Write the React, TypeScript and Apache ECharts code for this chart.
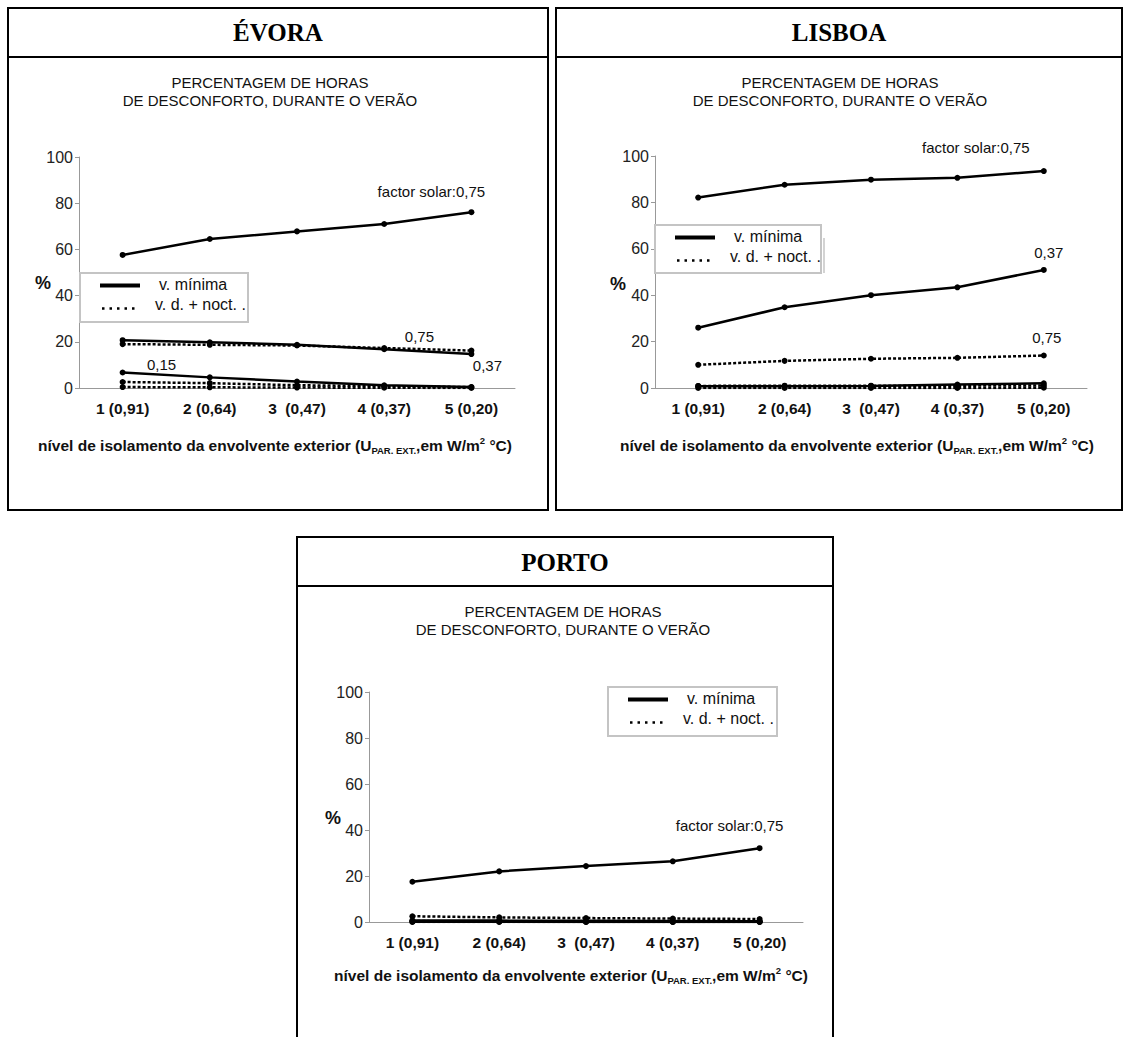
import React, { useEffect, useRef } from 'react';
import * as echarts from 'echarts';

// ---------- data ----------
const categories = ['1 (0,91)', '2 (0,64)', '3  (0,47)', '4 (0,37)', '5 (0,20)'];
const yMin = 0;
const yMax = 100;
const yStep = 20;

// Évora — v. mínima (solid) and v. d. + noct. (dashed), factor solar 0,75 / 0,37 / 0,15
const evoraMin075 = [57.6, 64.5, 67.8, 71.0, 76.1];
const evoraMin037 = [20.7, 19.8, 18.7, 16.8, 14.7];
const evoraMin015 = [6.7, 4.6, 2.8, 1.2, 0.4];
const evoraVdn075 = [19.0, 18.7, 18.4, 17.3, 16.2];
const evoraVdn037 = [2.6, 2.1, 1.2, 0.8, 0.4];
const evoraVdn015 = [0.4, 0.3, 0.2, 0.1, 0.0];

// Lisboa
const lisboaMin075 = [82.1, 87.6, 89.8, 90.6, 93.5];
const lisboaMin037 = [26.0, 34.8, 40.0, 43.4, 50.9];
const lisboaMin015 = [0.8, 0.8, 0.9, 1.5, 2.0];
const lisboaVdn075 = [10.0, 11.7, 12.6, 13.0, 14.0];
const lisboaVdn037 = [0.9, 1.0, 1.0, 1.0, 1.1];
const lisboaVdn015 = [0.0, 0.0, 0.0, 0.0, 0.1];

// Porto
const portoMin075 = [17.5, 22.0, 24.3, 26.4, 32.1];
const portoMin037 = [0.7, 0.6, 0.5, 0.4, 0.3];
const portoMin015 = [0.1, 0.1, 0.0, 0.0, 0.0];
const portoVdn075 = [2.5, 2.0, 1.7, 1.5, 1.3];
const portoVdn037 = [0.4, 0.3, 0.3, 0.2, 0.2];
const portoVdn015 = [0.0, 0.0, 0.0, 0.0, 0.0];

// texts
const cityTitles = ['ÉVORA', 'LISBOA', 'PORTO'];
const subtitleLines = ['PERCENTAGEM DE HORAS', 'DE DESCONFORTO, DURANTE O VERÃO'];
const legendNames = ['v. mínima', 'v. d. + noct. .'];
const labelFS075 = 'factor solar:0,75';
const label075 = '0,75';
const label037 = '0,37';
const label015 = '0,15';
const yAxisName = '%';

// ---------- style ----------
const SANS = '"Liberation Sans", Arial, sans-serif';
const SERIF = '"Liberation Serif", "Times New Roman", serif';
const FS = 15;

type LabelSpec = { index: number; text: string; position: 'top' | 'bottom'; offset: [number, number] };

function lineSeries(name: string, g: number, values: number[], dashed: boolean, labels: LabelSpec[] = []) {
  return {
    type: 'line',
    name,
    xAxisIndex: g,
    yAxisIndex: g,
    data: values.map((v, i) => {
      const l = labels.find((x) => x.index === i);
      if (!l) return v;
      return {
        value: v,
        label: {
          show: true,
          formatter: l.text,
          position: l.position,
          offset: l.offset,
          color: '#111',
          fontSize: FS,
          fontFamily: SANS,
        },
      };
    }),
    symbol: 'circle',
    symbolSize: 6,
    showSymbol: true,
    itemStyle: { color: '#000' },
    lineStyle: { color: '#000', width: 2.5, type: dashed ? [3, 2] : 'solid' },
    z: dashed ? 3 : 2,
    silent: true,
    label: { show: false },
  };
}

const grids = [
  { left: 79, top: 157, width: 436, height: 231 },
  { left: 655, top: 156, width: 432, height: 232 },
  { left: 369, top: 692, width: 434, height: 230 },
];

function xAxisCfg(g: number) {
  return {
    type: 'category',
    gridIndex: g,
    data: categories,
    boundaryGap: true,
    axisLine: { show: true, lineStyle: { color: '#999', width: 1 } },
    axisTick: { show: false },
    axisLabel: { color: '#111', fontSize: 15.5, fontWeight: 'bold', fontFamily: SANS, margin: 12, interval: 0 },
    splitLine: { show: false },
  };
}

function yAxisCfg(g: number) {
  return {
    type: 'value',
    gridIndex: g,
    min: yMin,
    max: yMax,
    interval: yStep,
    axisLine: { show: true, lineStyle: { color: '#999', width: 1 } },
    axisTick: { show: true, length: 4, lineStyle: { color: '#999' } },
    axisLabel: { color: '#222', fontSize: 16, fontFamily: SANS, margin: 6 },
    splitLine: { show: false },
  };
}

function legendGroup(x0: number, y0: number, w: number, h: number) {
  return [
    { type: 'rect', shape: { x: x0, y: y0, width: w, height: h }, style: { fill: '#fff', stroke: '#c4c4c4', lineWidth: 2 }, z: 50 },
    { type: 'line', shape: { x1: x0 + 20, y1: y0 + 12.5, x2: x0 + 60, y2: y0 + 12.5 }, style: { stroke: '#000', lineWidth: 4 }, z: 51 },
    { type: 'line', shape: { x1: x0 + 22, y1: y0 + 35.5, x2: x0 + 58, y2: y0 + 35.5 }, style: { stroke: '#000', lineWidth: 2.5, lineDash: [2.5, 5] }, z: 51 },
    { type: 'text', x: x0 + 79, y: y0 + 11.5, style: { text: legendNames[0], fontSize: 16, fontFamily: SANS, fill: '#111', align: 'left', verticalAlign: 'middle' }, z: 51 },
    { type: 'text', x: x0 + 75, y: y0 + 31.5, style: { text: legendNames[1], fontSize: 16, fontFamily: SANS, fill: '#111', align: 'left', verticalAlign: 'middle' }, z: 51 },
  ];
}

function txt(x: number, y: number, text: string, extra: any = {}) {
  return {
    type: 'text',
    x,
    y,
    style: { text, fontSize: FS, fontFamily: SANS, fill: '#111', align: 'center', verticalAlign: 'middle', ...extra },
    z: 40,
  };
}

function axisTitle(x: number, y: number) {
  return {
    type: 'text',
    x,
    y,
    style: {
      text: '{a|nível de isolamento da envolvente exterior (U}{s|PAR. EXT.}{a|,em W/m}{p|2}{a| °C)}',
      align: 'center',
      verticalAlign: 'middle',
      fill: '#111',
      rich: {
        a: { fontSize: 15.5, fontWeight: 'bold', fontFamily: SANS, lineHeight: 20, fill: '#111' },
        s: { fontSize: 9.5, fontWeight: 'bold', fontFamily: SANS, verticalAlign: 'bottom', lineHeight: 11, fill: '#111' },
        p: { fontSize: 9.5, fontWeight: 'bold', fontFamily: SANS, verticalAlign: 'top', lineHeight: 11, fill: '#111' },
      },
    },
    z: 40,
  };
}

export default function App() {
  const ref = useRef<HTMLDivElement>(null);

  useEffect(() => {
    if (!ref.current) return;
    const chart = echarts.init(ref.current, null, { renderer: 'svg' });

    const boxes = [
      // Évora
      { type: 'rect', shape: { x: 8, y: 8, width: 540, height: 502 }, style: { fill: 'none', stroke: '#000', lineWidth: 2 }, z: 30 },
      { type: 'line', shape: { x1: 8, y1: 57, x2: 548, y2: 57 }, style: { stroke: '#000', lineWidth: 2 }, z: 30 },
      // Lisboa
      { type: 'rect', shape: { x: 556, y: 8, width: 566, height: 502 }, style: { fill: 'none', stroke: '#000', lineWidth: 2 }, z: 30 },
      { type: 'line', shape: { x1: 556, y1: 57, x2: 1122, y2: 57 }, style: { stroke: '#000', lineWidth: 2 }, z: 30 },
      // Porto
      { type: 'polyline', shape: { points: [[297, 1040], [297, 537], [833, 537], [833, 1040]] }, style: { fill: 'none', stroke: '#000', lineWidth: 2 }, z: 30 },
      { type: 'line', shape: { x1: 297, y1: 586, x2: 833, y2: 586 }, style: { stroke: '#000', lineWidth: 2 }, z: 30 },
    ];

    const texts = [
      txt(278, 32, cityTitles[0], { fontFamily: SERIF, fontWeight: 'bold', fontSize: 25, fill: '#000' }),
      txt(839, 32, cityTitles[1], { fontFamily: SERIF, fontWeight: 'bold', fontSize: 25, fill: '#000' }),
      txt(565, 562, cityTitles[2], { fontFamily: SERIF, fontWeight: 'bold', fontSize: 25, fill: '#000' }),
      txt(270, 82, subtitleLines[0]),
      txt(270, 100, subtitleLines[1]),
      txt(840, 82, subtitleLines[0]),
      txt(840, 100, subtitleLines[1]),
      txt(563, 611, subtitleLines[0]),
      txt(563, 629, subtitleLines[1]),
      txt(43, 283, yAxisName, { fontWeight: 'bold', fontSize: 18 }),
      txt(618, 284, yAxisName, { fontWeight: 'bold', fontSize: 18 }),
      txt(333, 818, yAxisName, { fontWeight: 'bold', fontSize: 18 }),
      axisTitle(275, 445),
      axisTitle(857, 445),
      axisTitle(571, 975),
    ];

    const legends = [
      ...legendGroup(80, 273, 168, 49),
      { type: 'line', shape: { x1: 824, y1: 238, x2: 824, y2: 273 }, style: { stroke: '#c4c4c4', lineWidth: 1.5 }, z: 49 },
      ...legendGroup(655, 225, 166, 48),
      ...legendGroup(608, 687, 169, 49),
    ];

    const series = [
      // Évora
      lineSeries('ev-min-075', 0, evoraMin075, false, [{ index: 4, text: labelFS075, position: 'top', offset: [-40, -5] }]),
      lineSeries('ev-min-037', 0, evoraMin037, false, [{ index: 4, text: label037, position: 'bottom', offset: [16, -4] }]),
      lineSeries('ev-min-015', 0, evoraMin015, false, [{ index: 0, text: label015, position: 'top', offset: [39, 7] }]),
      lineSeries('ev-vdn-075', 0, evoraVdn075, true, [{ index: 4, text: label075, position: 'top', offset: [-52, 1] }]),
      lineSeries('ev-vdn-037', 0, evoraVdn037, true),
      lineSeries('ev-vdn-015', 0, evoraVdn015, true),
      // Lisboa
      lineSeries('li-min-075', 1, lisboaMin075, false, [{ index: 4, text: labelFS075, position: 'top', offset: [-68, -8] }]),
      lineSeries('li-min-037', 1, lisboaMin037, false, [{ index: 4, text: label037, position: 'top', offset: [5, -2] }]),
      lineSeries('li-min-015', 1, lisboaMin015, false),
      lineSeries('li-vdn-075', 1, lisboaVdn075, true, [{ index: 4, text: label075, position: 'top', offset: [3, -3] }]),
      lineSeries('li-vdn-037', 1, lisboaVdn037, true),
      lineSeries('li-vdn-015', 1, lisboaVdn015, true),
      // Porto
      lineSeries('po-min-075', 2, portoMin075, false, [{ index: 4, text: labelFS075, position: 'top', offset: [-30, -7] }]),
      lineSeries('po-min-037', 2, portoMin037, false),
      lineSeries('po-min-015', 2, portoMin015, false),
      lineSeries('po-vdn-075', 2, portoVdn075, true),
      lineSeries('po-vdn-037', 2, portoVdn037, true),
      lineSeries('po-vdn-015', 2, portoVdn015, true),
    ];

    chart.setOption({
      animation: false,
      backgroundColor: '#fff',
      textStyle: { fontFamily: SANS },
      grid: grids,
      xAxis: [xAxisCfg(0), xAxisCfg(1), xAxisCfg(2)],
      yAxis: [yAxisCfg(0), yAxisCfg(1), yAxisCfg(2)],
      series,
      graphic: [...boxes, ...texts, ...legends],
    });

    return () => chart.dispose();
  }, []);

  return (
    <div
      ref={ref}
      style={{ position: 'absolute', left: 0, top: 0, width: 1130, height: 1037, background: '#fff' }}
    />
  );
}
